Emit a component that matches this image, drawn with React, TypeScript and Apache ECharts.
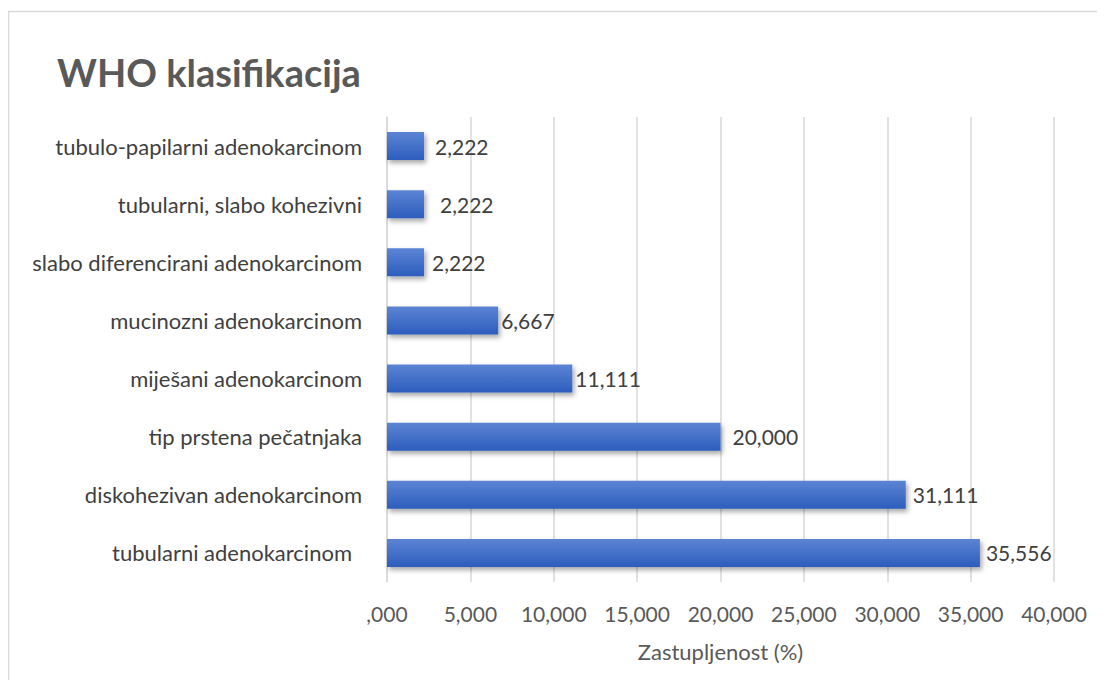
import React, { useEffect, useRef } from "react";
import * as echarts from "echarts";

const categories = [
  "tubularni adenokarcinom",
  "diskohezivan adenokarcinom",
  "tip prstena pečatnjaka",
  "miješani adenokarcinom",
  "mucinozni adenokarcinom",
  "slabo diferencirani adenokarcinom",
  "tubularni, slabo kohezivni",
  "tubulo-papilarni adenokarcinom",
];
const values = [35.556, 31.111, 20.0, 11.111, 6.667, 2.222, 2.222, 2.222];
const labelGaps = [6, 7, 12, 3, 3, 8, 16, 11];
const xTicks = [0, 5, 10, 15, 20, 25, 30, 35, 40];

const FONT = "Lato, 'Open Sans', sans-serif";

function fmt(v: number): string {
  const n = Math.round(v * 1000);
  const intPart = Math.floor(n / 1000);
  const dec = String(n % 1000).padStart(3, "0");
  return (intPart === 0 ? "" : String(intPart)) + "," + dec;
}

export default function App() {
  const ref = useRef<HTMLDivElement>(null);
  useEffect(() => {
    const chart = echarts.init(ref.current!, null, { renderer: "svg" });
    chart.setOption({
      animation: false,
      backgroundColor: "#ffffff",
      graphic: [
        {
          type: "rect",
          shape: { x: 0.5, y: 3.5, width: 1200, height: 800 },
          style: { fill: "none", stroke: "#d9d9d9", lineWidth: 1.5 },
          silent: true,
        },
        {
          type: "text",
          left: 49,
          top: 45,
          style: {
            text: "WHO klasifikacija",
            fill: "#595959",
            font: `bold 38px ${FONT}`,
          },
        },
      ],
      grid: { left: 379, top: 109, width: 667, height: 465, containLabel: false },
      xAxis: {
        type: "value",
        min: 0,
        max: 40,
        interval: 5,
        axisLine: { show: false },
        axisTick: { show: false },
        splitLine: { show: true, lineStyle: { color: "#d9d9d9", width: 1.5 } },
        axisLabel: {
          color: "#595959",
          fontSize: 21,
          fontFamily: FONT,
          margin: 21,
          formatter: (v: number) => (xTicks.includes(v) ? fmt(v) : ""),
        },
        name: "Zastupljenost (%)",
        nameLocation: "middle",
        nameGap: 58,
        nameTextStyle: { color: "#595959", fontSize: 22, fontFamily: FONT },
      },
      yAxis: {
        type: "category",
        data: categories,
        axisLine: { show: true, lineStyle: { color: "#d9d9d9", width: 1.5 } },
        axisTick: { show: false },
        axisLabel: {
          color: "#404040",
          fontSize: 22,
          fontFamily: FONT,
          margin: 25,
          formatter: (v: string, i: number) => (i === 0 ? `{a|${v}}` : v),
          rich: {
            a: { color: "#404040", fontSize: 22, fontFamily: FONT, padding: [0, 10, 0, 0] },
          },
        },
      },
      series: [
        {
          type: "bar",
          data: values.map((v, i) => ({
            value: v,
            label: { distance: labelGaps[i] },
          })),
          barWidth: 28,
          itemStyle: {
            color: new echarts.graphic.LinearGradient(0, 0, 0, 1, [
              { offset: 0, color: "#5c84d4" },
              { offset: 1, color: "#2d5dbd" },
            ]),
            shadowColor: "rgba(0,0,0,0.35)",
            shadowBlur: 5,
            shadowOffsetX: 2,
            shadowOffsetY: 3,
          },
          label: {
            show: true,
            position: "right",
            color: "#404040",
            fontSize: 21,
            fontFamily: FONT,
            formatter: (p: any) => fmt(p.value),
          },
        },
      ],
    });
    return () => chart.dispose();
  }, []);
  return <div ref={ref} style={{ width: 1089, height: 672 }} />;
}
